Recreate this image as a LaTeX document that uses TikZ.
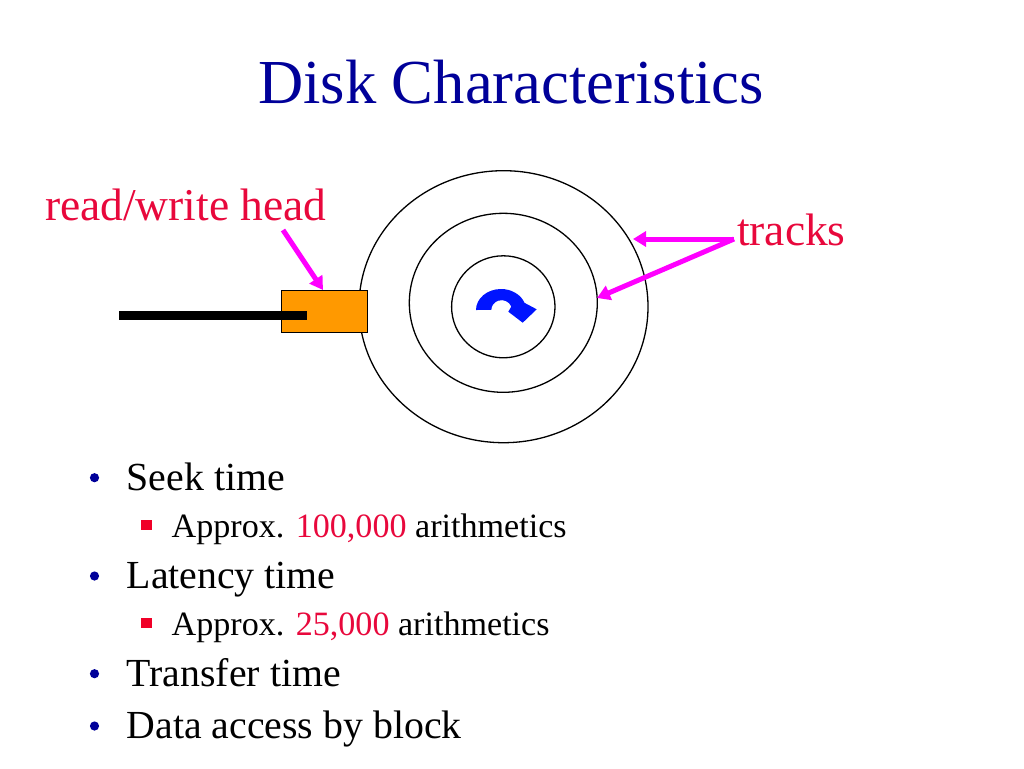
\documentclass[tikz,border=0pt]{standalone}
\usepackage{fontspec}
\setmainfont{Liberation Serif}
\usetikzlibrary{arrows.meta}
\definecolor{navy}{RGB}{0,0,153}
\definecolor{pptred}{RGB}{232,8,60}
\definecolor{sqred}{RGB}{240,0,40}
\definecolor{pmag}{RGB}{255,0,255}
\definecolor{porange}{RGB}{255,153,0}
\definecolor{pblue}{RGB}{0,20,255}
\tikzset{
  txt/.style={anchor=base west, inner sep=0pt, outer sep=0pt},
  lvlone/.style={txt, font=\fontsize{39.8}{44}\selectfont},
  lvltwo/.style={txt, font=\fontsize{34.1}{38}\selectfont},
  lbl/.style={txt, text=pptred, font=\fontsize{45.5}{50}\selectfont},
  magarrow/.style={draw=pmag, line width=5pt, -{Triangle[length=13pt,width=15pt]}},
  track/.style={draw=black, line width=1.3pt},
}
\begin{document}
\begin{tikzpicture}[x=1pt,y=-1pt]
\useasboundingbox (0,0) rectangle (1024,768);
% title
\node[anchor=base, inner sep=0pt, text=navy, font=\fontsize{62.6}{70}\selectfont] (title) at (511,103.5) {Disk Characteristics};
% disk tracks
\draw[track] (503.5,306.7) ellipse [x radius=144.5, y radius=136];
\draw[track] (503.3,302.8) ellipse [x radius=94, y radius=89.5];
\draw[track] (503.3,306.8) ellipse [x radius=51.7, y radius=51];
% rotation arrow
\fill[pblue] (476,310) arc [start angle=180, end angle=340, x radius=25, y radius=21]
  -- (536.7,309.3) -- (522.7,322.7) -- (508.3,311.7) -- (511.3,306.6)
  arc [start angle=340, end angle=180, x radius=10.3, y radius=9.8] -- cycle;
% head
\node[draw=black, line width=1pt, fill=porange, minimum width=86.3pt, minimum height=42.7pt, inner sep=0pt] (head) at (324.15,311.35) {};
\coordinate (armL) at (119.3,315.5);
\coordinate (armR) at (307.3,315.5);
\draw[line width=8.4pt] (armL) -- (armR);
% labels
\node[lbl] (rwlabel) at (45,220) {read/write head};
\node[lbl] (tracks) at (737,245) {tracks};
% arrows
\coordinate (rwtail) at (283,230);
\coordinate (rwtip) at (323,290);
\draw[magarrow] (rwtail) -- (rwtip);
\coordinate (tk) at (734,239);
\coordinate (tkA) at (633,239);
\coordinate (tkB) at (597,298);
\draw[magarrow] (tk) -- (tkA);
\draw[magarrow] (tk) -- (tkB);
% bullets
\foreach \yy/\nm in {490/b1,588.3/b2,686/b3,738.3/b4}{
  \fill[navy] (94.5,\yy-12.3) circle [radius=4.6];
}
\foreach \yy in {537.3,635}{
  \fill[sqred] (141,\yy-17) rectangle (151.5,\yy-7);
}
\node[lvlone] (seek) at (126.7,490) {Seek time};
\node[lvltwo] (seeka) at (171.7,537.3) {Approx. \textcolor{pptred}{100,000} arithmetics};
\node[lvlone] (lat) at (126.7,588.3) {Latency time};
\node[lvltwo] (lata) at (171.7,635) {Approx. \textcolor{pptred}{25,000} arithmetics};
\node[lvlone] (trans) at (126.7,686) {Transfer time};
\node[lvlone] (data) at (126.7,738.3) {Data access by block};
\end{tikzpicture}
\end{document}
